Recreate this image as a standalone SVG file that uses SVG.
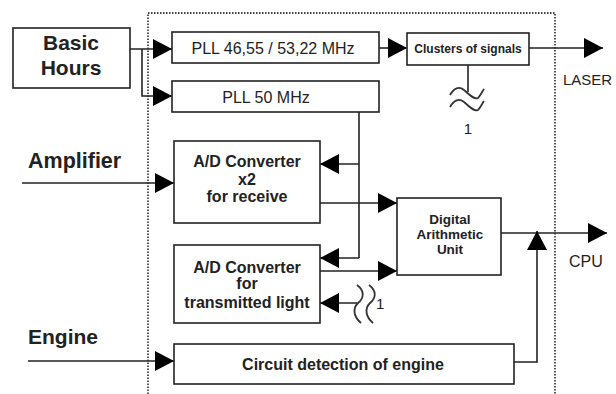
<svg xmlns="http://www.w3.org/2000/svg" width="616" height="394" viewBox="0 0 616 394">
<defs>
<marker id="ah" markerUnits="userSpaceOnUse" markerWidth="20" markerHeight="20" refX="19" refY="10" orient="auto">
<path d="M0,0 L19,10 L0,20 z" fill="#000"/>
</marker>
<style>
.box{fill:#fff;stroke:#222;stroke-width:1.6}
.ln{fill:none;stroke:#222;stroke-width:1.6}
.wv{fill:none;stroke:#333;stroke-width:1.8}
.arr{fill:none;stroke:#222;stroke-width:1.6;marker-end:url(#ah)}
.big{font-family:"Liberation Sans",Arial,sans-serif;font-weight:bold;font-size:21px;fill:#222}
.bd{font-family:"Liberation Sans",Arial,sans-serif;font-weight:bold;font-size:16px;fill:#222;text-anchor:middle}
.rg{font-family:"Liberation Sans",Arial,sans-serif;font-size:16px;fill:#222}
.dot{fill:none;stroke:#444;stroke-width:1.8;stroke-dasharray:1.5 1.5}
</style>
</defs>
<rect width="616" height="394" fill="#fff"/>
<path class="dot" d="M148,394 V13 H555 V394"/>
<g id="connectors">
<path class="arr" d="M130,49 H172"/>
<path class="arr" d="M142,49 V96 H172"/>
<path class="arr" d="M379,48 H407"/>
<path class="arr" d="M529,48 H603"/>
<path class="ln" d="M468,65 V92"/>
<path class="wv" d="M450,95 C454,88 459,86 464,90 C470,95 474,100 478,98 C480,96 482,92 484,89"/>
<path class="wv" d="M450,107 C454,100 459,98 464,102 C470,107 474,112 478,110 C480,108 482,104 484,101"/>
<path class="ln" d="M359,112 V258"/>
<path class="arr" d="M359,164 H320"/>
<path class="arr" d="M359,258 H320"/>
<path class="arr" d="M320,203 H397"/>
<path class="arr" d="M320,271 H397"/>
<path class="arr" d="M357,303 H320"/>
<path class="wv" d="M357,285 C365,291 364,298 358,303 C352,309 354,317 361,323"/>
<path class="wv" d="M369,285 C377,291 376,298 370,303 C364,309 366,317 373,323"/>
<path class="arr" d="M22,183 H174"/>
<path class="arr" d="M28,361 H174"/>
<path class="arr" d="M501,233 H607"/>
<path class="arr" d="M514,362 H537 V231"/>
<path d="M497,229 V240" stroke="#bbb" stroke-width="1"/>
</g>
<g id="basic-hours">
<rect class="box" x="13" y="28" width="117" height="60"/>
<text class="big" x="71" y="50" text-anchor="middle">Basic</text>
<text class="big" x="71" y="75" text-anchor="middle">Hours</text>
</g>
<g id="pll-46">
<rect class="box" x="172" y="32" width="207" height="31"/>
<text class="rg" x="273" y="54" text-anchor="middle">PLL 46,55 / 53,22 MHz</text>
</g>
<g id="pll-50">
<rect class="box" x="172" y="81" width="207" height="31"/>
<text class="rg" x="266" y="103" text-anchor="middle">PLL 50 MHz</text>
</g>
<g id="clusters">
<rect class="box" x="407" y="33" width="122" height="32"/>
<text class="bd" x="468" y="53" style="font-size:12px">Clusters of signals</text>
</g>
<g id="laser">
<text class="rg" x="563" y="85" style="font-size:15px">LASER</text>
</g>
<g id="signal-1a">
<text class="rg" x="468" y="134" text-anchor="middle" style="font-size:15px">1</text>
</g>
<g id="amplifier">
<text class="big" x="28" y="168" style="font-size:21.5px">Amplifier</text>
</g>
<g id="adc-receive">
<rect class="box" x="174" y="141" width="146" height="82"/>
<text class="bd" x="247" y="167">A/D Converter</text>
<text class="bd" x="247" y="185">x2</text>
<text class="bd" x="247" y="202">for receive</text>
</g>
<g id="adc-transmit">
<rect class="box" x="174" y="245" width="146" height="78"/>
<text class="bd" x="247" y="273">A/D Converter</text>
<text class="bd" x="247" y="289">for</text>
<text class="bd" x="247" y="308">transmitted light</text>
</g>
<g id="signal-1b">
<text class="rg" x="376" y="309" style="font-size:15px">1</text>
</g>
<g id="dau">
<rect class="box" x="397" y="198" width="104" height="77"/>
<text class="bd" x="450" y="224" style="font-size:13.5px">Digital</text>
<text class="bd" x="450" y="239" style="font-size:13.5px">Arithmetic</text>
<text class="bd" x="450" y="254" style="font-size:13.5px">Unit</text>
</g>
<g id="cpu">
<text class="rg" x="569" y="267">CPU</text>
</g>
<g id="engine">
<text class="big" x="28" y="344">Engine</text>
</g>
<g id="circuit">
<rect class="box" x="174" y="344" width="340" height="40"/>
<text class="bd" x="343" y="370">Circuit detection of engine</text>
</g>
</svg>
